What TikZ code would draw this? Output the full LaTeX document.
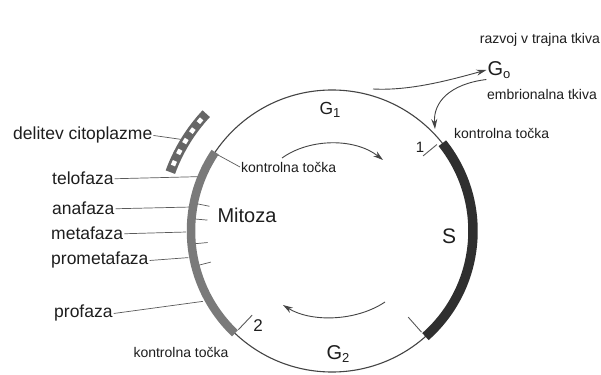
\documentclass[tikz,border=0pt]{standalone}
\usepackage{fontspec}
\setmainfont{Liberation Sans}
\usetikzlibrary{arrows.meta,positioning,calc}

\definecolor{besedilo}{HTML}{1E1E1E}
\definecolor{crtabarva}{HTML}{5A5A5A}
\definecolor{obrocbarva}{HTML}{444444}
\definecolor{mitbarva}{HTML}{7A7A7A}
\definecolor{sbarva}{HTML}{2F2F2F}
\definecolor{citbarva}{HTML}{666666}

\newcommand{\gsub}[2]{#1\raisebox{-2.5pt}{\fontsize{13}{13}\selectfont #2}}

\begin{document}
\begin{tikzpicture}[x=1pt,y=1pt,>={Stealth[length=10pt,width=6pt]},line join=round]
\tikzstyle{velik} = [font=\fontsize{17.5}{20}\selectfont,text=besedilo,inner sep=1pt]
\tikzstyle{mali} = [font=\fontsize{14}{16}\selectfont,text=besedilo,inner sep=1pt]
\tikzstyle{faza} = [font=\fontsize{20}{22}\selectfont,text=besedilo,inner sep=1pt]
\tikzstyle{crta} = [draw=crtabarva,line width=0.7pt]
\tikzstyle{oznaka} = [draw=crtabarva,line width=0.9pt]
\tikzstyle{obroc} = [draw=obrocbarva,line width=1.1pt]
\tikzstyle{puscica} = [->,draw=obrocbarva,line width=0.9pt]
\useasboundingbox (0,0) rectangle (601,374);
\fill[white] (0,0) rectangle (601,374);

    % cikel
    \coordinate (c) at (332,143);
    \draw[obroc] (c) circle[radius=141];
    \draw[draw=mitbarva,line width=8.5pt] ($(c)+(146:141)$) arc[start angle=146,end angle=226.5,radius=141];
    \draw[draw=sbarva,line width=9.5pt] ($(c)+(38.5:141)$) arc[start angle=38.5,end angle=-48.5,radius=141];

    % delitev citoplazme
    \draw[draw=citbarva,line width=10pt] ($(c)+(137:172)$) arc[start angle=137,end angle=160,radius=172];
    \draw[draw=white,line width=4.5pt,dash pattern=on 5pt off 7.5pt] ($(c)+(139.3:172)$) arc[start angle=139.3,end angle=158,radius=172];

    % meje faz mitoze
    \foreach \a in {168.6,175,185.3,194.4}
        \draw[crta] ($(c)+(\a:137)$) -- ($(c)+(\a:125)$);

    % kontrolne tocke
    \draw[oznaka] ($(c)+(39.5:136)$) -- ($(c)+(39.5:118)$);
    \draw[oznaka] ($(c)+(-48.5:135)$) -- ($(c)+(-48.5:115)$);
    \draw[oznaka] ($(c)+(226.5:136)$) -- ($(c)+(226.5:116)$);
    \coordinate (kt-mit) at ($(c)+(146.3:137)$);

    \coordinate (p-cit) at ($(c)+(148.8:177)$);
    \coordinate (p-telo) at ($(c)+(158:145)$);
    \coordinate (p-ana) at ($(c)+(170.5:145)$);
    \coordinate (p-meta) at ($(c)+(180.4:146)$);
    \coordinate (p-prometa) at ($(c)+(190.5:146)$);
    \coordinate (p-pro) at ($(c)+(208.6:147)$);

    \node[velik,anchor=base west] (delitev) at (12,234) {delitev citoplazme};
    \node[velik,anchor=base west] (telofaza) at (51,189) {telofaza};
    \node[velik,anchor=base west] (anafaza) at (51,159) {anafaza};
    \node[velik,anchor=base west] (metafaza) at (50,134) {metafaza};
    \node[velik,anchor=base west] (prometafaza) at (50,109) {prometafaza};
    \node[velik,anchor=base west] (profaza) at (53,56) {profaza};

    \draw[crta] (delitev.east) -- (p-cit);
    \draw[crta] (telofaza.east) -- (p-telo);
    \draw[crta] (anafaza.east) -- (p-ana);
    \draw[crta] (metafaza.east) -- (p-meta);
    \draw[crta] (prometafaza.east) -- (p-prometa);
    \draw[crta] (profaza.east) -- (p-pro);

    \node[mali,anchor=west] (kt2) at (240,207) {kontrolna točka};
    \draw[crta] (kt-mit) -- (kt2.west);
    \node[mali] (kt3) at (181,22) {kontrolna točka};
    \node[mali,anchor=west] (kt1) at (453,241) {kontrolna točka};
    \node[mali,font=\fontsize{15}{16}\selectfont] (ena) at (420,227) {1};
    \node[mali,font=\fontsize{17}{18}\selectfont] (dva) at (258,48) {2};

    \node[faza] (mitoza) at (247,159) {Mitoza};
    \node[faza,font=\fontsize{21}{22}\selectfont] (s) at (449,138) {S};
    \node[faza,font=\fontsize{17.5}{20}\selectfont] (g1) at (330,264) {\gsub{G}{1}};
    \node[faza] (g2) at (338,20) {\gsub{G}{2}};
    \node[faza] (g0) at (499,304) {\gsub{G}{o}};
    \node[mali,anchor=east] (trajna) at (601,334) {razvoj v trajna tkiva};
    \node[mali] (embrio) at (542,279) {embrionalna tkiva};

    % smer cikla
    \coordinate (z1) at (282,216);
    \coordinate (k1) at (383,214);
    \coordinate (z2) at (385,72);
    \coordinate (k2) at (283,69);
    \draw[puscica] (z1) .. controls (310,236) and (355,236) .. (k1);
    \draw[puscica] (z2) .. controls (355,52) and (310,52) .. (k2);

    % G0
    \coordinate (izhod) at (373,285);
    \coordinate (vstop) at (435,245);
    \draw[puscica] (izhod) .. controls (410,283) and (450,294) .. (g0.west);
    \draw[puscica] (g0.south west) .. controls (450,290) and (433,272) .. (vstop);
\end{tikzpicture}
\end{document}
